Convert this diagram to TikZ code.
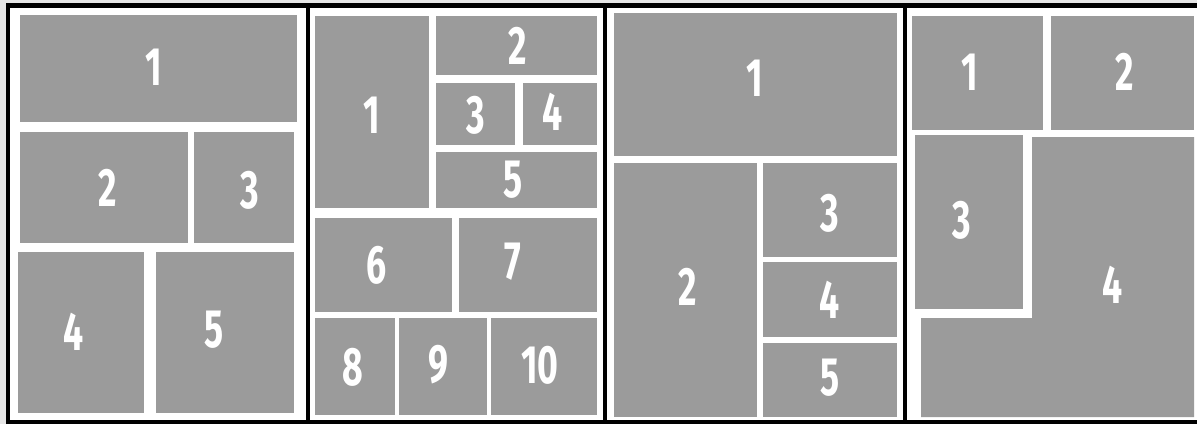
\documentclass[tikz,border=0pt]{standalone}
\usepackage{fontspec}
\newfontfamily\digits[FakeStretch=0.66]{Fira Sans}
\definecolor{cellgray}{HTML}{9B9B9B}
\definecolor{edgegray}{HTML}{E6E6E6}
\begin{document}
\begin{tikzpicture}[x=1pt,y=-1pt,
  cell/.style={fill=cellgray},
  num/.style={text=white,inner sep=0pt,font=\digits\bfseries\fontsize{54}{54}\selectfont},
  frame/.style={line width=4.5pt,black}]
\useasboundingbox (0,0) rectangle (1197,424);
\fill[edgegray] (0,0) rectangle (1197,424);
\fill[white] (6,3) rectangle (1197,424);
% panel 1
\fill[cell] (20,15) rectangle (297,122);
\fill[cell] (20,132) rectangle (188,243);
\fill[cell] (194,132) rectangle (294,243);
\fill[cell] (18,252) rectangle (144,413);
\fill[cell] (156,252) rectangle (294,413);
\node[num] (a1) at (154,67) {1};
\node[num] (a2) at (108,188) {2};
\node[num] (a3) at (250,190) {3};
\node[num] (a4) at (74,332) {4};
\node[num] (a5) at (214,330) {5};
% panel 2
\fill[cell] (315,16) rectangle (429,208);
\fill[cell] (436,16) rectangle (597,75);
\fill[cell] (436,83) rectangle (515,145);
\fill[cell] (523,83) rectangle (597,145);
\fill[cell] (436,152) rectangle (597,208);
\fill[cell] (315,218) rectangle (452,312);
\fill[cell] (459,218) rectangle (597,312);
\fill[cell] (315,318) rectangle (395,415);
\fill[cell] (399,318) rectangle (487,415);
\fill[cell] (491,318) rectangle (597,415);
\node[num] (b1) at (372,115) {1};
\node[num] (b2) at (518,46) {2};
\node[num] (b3) at (476,115) {3};
\node[num] (b4) at (553,112) {4};
\node[num] (b5) at (513,180) {5};
\node[num] (b6) at (377,265) {6};
\node[num] (b7) at (513,262) {7};
\node[num] (b8) at (353,367) {8};
\node[num] (b9) at (438,365) {9};
\node[num] (b10) at (540,365) {10};
% panel 3
\fill[cell] (614,13) rectangle (897,156);
\fill[cell] (614,163) rectangle (757,417);
\fill[cell] (763,163) rectangle (897,257);
\fill[cell] (763,262) rectangle (897,337);
\fill[cell] (763,343) rectangle (897,417);
\node[num] (c1) at (755,78) {1};
\node[num] (c2) at (688,287) {2};
\node[num] (c3) at (830,213) {3};
\node[num] (c4) at (830,300) {4};
\node[num] (c5) at (830,378) {5};
% panel 4
\fill[cell] (912,16) rectangle (1043,130);
\fill[cell] (1051,16) rectangle (1194,130);
\fill[cell] (915,135) rectangle (1023,309);
\fill[cell] (1032,137) -- (1194,137) -- (1194,417) -- (921,417) -- (921,318) -- (1032,318) -- cycle;
\node[num] (d1) at (970,72) {1};
\node[num] (d2) at (1125,72) {2};
\node[num] (d3) at (962,220) {3};
\node[num] (d4) at (1113,285) {4};
% frames
\draw[frame] (8,424) -- (8,5.5) -- (1197,5.5);
\draw[frame] (8,422) -- (1197,422);
\draw[frame] (308,5.5) -- (308,424);
\draw[frame] (605,5.5) -- (605,424);
\draw[frame] (905,5.5) -- (905,424);
\end{tikzpicture}
\end{document}
